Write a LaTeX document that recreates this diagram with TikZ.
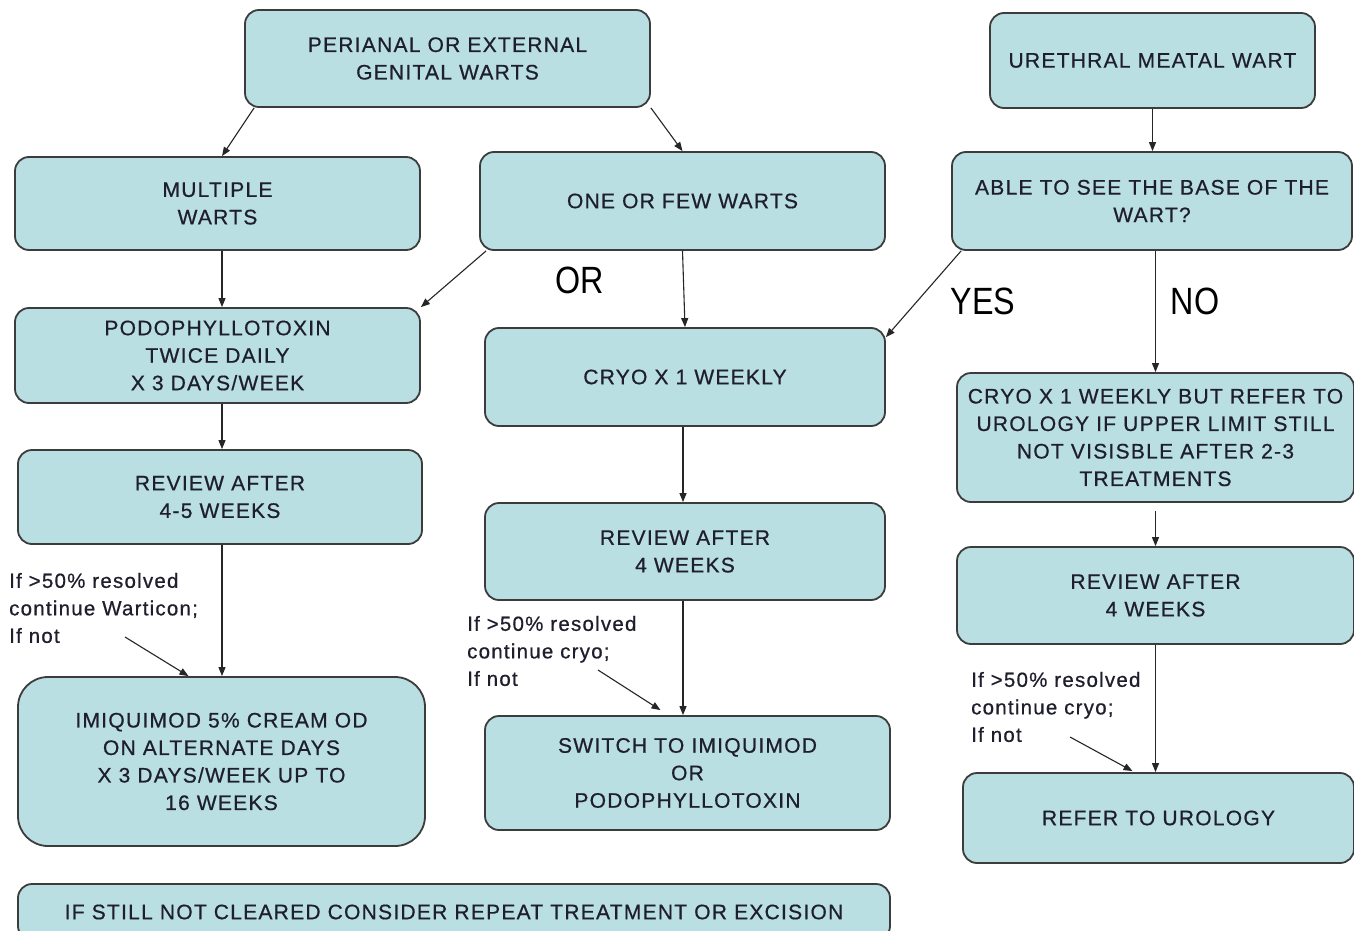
\documentclass[tikz,border=0pt]{standalone}
\usepackage{fontspec}
\setmainfont{Liberation Sans}[LetterSpace=6,FakeBold=0.6]
\newfontfamily\bigfont{Liberation Sans}[FakeStretch=0.85]
\usetikzlibrary{arrows.meta,calc}
\definecolor{boxfill}{RGB}{185,223,226}
\definecolor{boxline}{RGB}{60,60,60}
\definecolor{txt}{RGB}{30,30,45}
\begin{document}
\begin{tikzpicture}[x=1pt,y=-1pt,
 box/.style={draw=boxline, line width=1.8pt, fill=boxfill, rounded corners=14pt, align=center, text=txt, font=\fontsize{21}{27.5}\selectfont, inner sep=0pt},
 arr/.style={draw=black!85, line width=1.1pt, -{Triangle[length=9pt,width=7pt]}},
 link/.style={draw=black!85, line width=1.1pt},
 note/.style={align=left, anchor=west, inner sep=0pt, text=txt, font=\fontsize{20.5}{27.5}\selectfont},
 big/.style={inner sep=0pt, text=black, font=\bigfont\fontsize{38}{40}\selectfont}]
\clip (0,0) rectangle (1354,931);
\fill[white] (0,0) rectangle (1354,931);

\node[box, minimum width=405, minimum height=97] (perianal) at (447.5,58.5) {PERIANAL OR EXTERNAL\\GENITAL WARTS};
\node[box, minimum width=325, minimum height=95] (urethral) at (1152.5,60.5) {URETHRAL MEATAL WART};
\node[box, minimum width=405, minimum height=93] (multi) at (217.5,203.5) {MULTIPLE\\WARTS};
\node[box, minimum width=405, minimum height=98] (one) at (682.5,201) {ONE OR FEW WARTS};
\node[box, minimum width=400, minimum height=98] (able) at (1152,201) {ABLE TO SEE THE BASE OF THE\\WART?};
\node[box, minimum width=405, minimum height=95] (podo) at (217.5,355.5) {PODOPHYLLOTOXIN\\TWICE DAILY\\X 3 DAYS/WEEK};
\node[box, minimum width=400, minimum height=98] (cryo) at (685,377) {CRYO X 1 WEEKLY};
\node[box, minimum width=397, minimum height=129] (cryob) at (1155.5,437.5) {CRYO X 1 WEEKLY BUT REFER TO\\UROLOGY IF UPPER LIMIT STILL\\NOT VISISBLE AFTER 2-3\\TREATMENTS};
\node[box, minimum width=404, minimum height=94] (rev45) at (220,497) {REVIEW AFTER\\4-5 WEEKS};
\node[box, minimum width=400, minimum height=97] (revm) at (685,551.5) {REVIEW AFTER\\4 WEEKS};
\node[box, minimum width=397, minimum height=97] (revr) at (1155.5,595.5) {REVIEW AFTER\\4 WEEKS};
\node[box, rounded corners=30pt, minimum width=407, minimum height=169] (imiq) at (221.5,761.5) {IMIQUIMOD 5\% CREAM OD\\ON ALTERNATE DAYS\\X 3 DAYS/WEEK UP TO\\16 WEEKS};
\node[box, minimum width=405, minimum height=114] (switch) at (687.5,773) {SWITCH TO IMIQUIMOD\\OR\\PODOPHYLLOTOXIN};
\node[box, minimum width=391, minimum height=90] (refer) at (1158.5,818) {REFER TO UROLOGY};
\node[box, minimum width=872, minimum height=56] (still) at (454,912) {IF STILL NOT CLEARED CONSIDER REPEAT TREATMENT OR EXCISION};

\node[big] (orlab) at (580,280) {OR};
\node[big] (yes) at (983,301) {YES};
\node[big] (no) at (1195,301) {NO};

\node[note] (n1) at (9,608) {If >50\% resolved\\continue Warticon;\\If not};
\node[note] (n2) at (467,651) {If >50\% resolved\\continue cryo;\\If not};
\node[note] (n3) at (971,707) {If >50\% resolved\\continue cryo;\\If not};

\coordinate (s1) at (125,637);
\coordinate (s2) at (598,670);
\coordinate (s3) at (1070,737);

\draw[arr] ($(perianal.south west)+(10,0)$) -- ($(multi.north)+(4.5,0)$);
\draw[arr] (perianal.south east) -- (one.north);
\draw[arr] (urethral.south) -- (urethral.south |- able.north);
\draw[arr] ($(multi.south)+(4.5,0)$) -- ($(podo.north)+(4.5,0)$);
\draw[arr] ($(one.south west)+(7,0)$) -- (podo.north east);
\draw[arr] (one.south) -- (cryo.north);
\draw[arr] ($(able.south west)+(10,0)$) -- ($(cryo.north east)+(0,10)$);
\draw[arr] (able.south -| cryob.north) -- (cryob.north);
\draw[arr] ($(podo.south)+(4.5,0)$) -- ($(rev45.north)+(2,0)$);
\draw[arr] ($(cryo.south)+(-2,0)$) -- ($(revm.north)+(-2,0)$);
\draw[arr] ($(cryob.south)+(0,8)$) -- (revr.north);
\draw[arr] ($(rev45.south)+(2,0)$) -- ($(imiq.north)+(0.5,0)$);
\draw[arr] ($(revm.south)+(-2,0)$) -- ($(switch.north)+(-4.5,0)$);
\draw[arr] (revr.south) -- (revr.south |- refer.north);
\draw[link] ($(imiq.south)+(0.5,0)$) -- ($(imiq.south)+(0.5,0)$ |- still.north);
\draw[link] ($(switch.south)+(-4.5,0)$) -- ($(switch.south)+(-4.5,0)$ |- still.north);
\draw[arr] (s1) -- ($(imiq.north)+(-33,0)$);
\draw[arr] (s2) -- ($(switch.north)+(-27,-5)$);
\draw[arr] (s3) -- ($(refer.north)+(-26,-1)$);
\end{tikzpicture}
\end{document}
